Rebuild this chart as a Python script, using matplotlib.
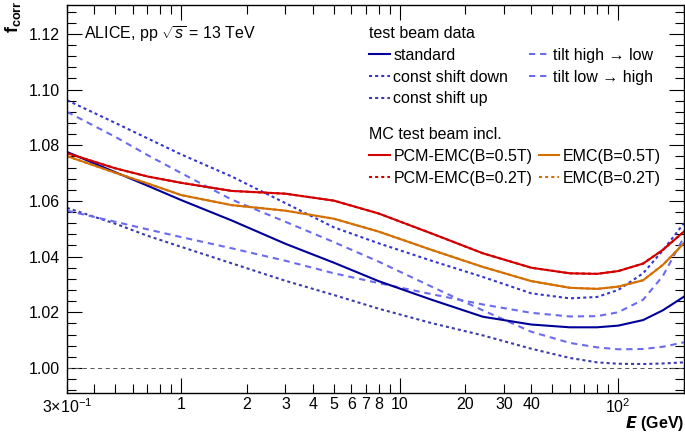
import numpy as np
import matplotlib.pyplot as plt
from matplotlib.ticker import FixedLocator, FuncFormatter, MultipleLocator, FormatStrFormatter

plt.rcParams['font.family'] = ['Liberation Sans', 'DejaVu Sans']
plt.rcParams['mathtext.fontset'] = 'custom'
plt.rcParams['mathtext.rm'] = 'Liberation Sans'
plt.rcParams['mathtext.it'] = 'Liberation Sans:italic'
plt.rcParams['mathtext.bf'] = 'Liberation Sans:bold'
plt.rcParams['lines.scale_dashes'] = False

# energy grid (GeV)
energy = [0.3, 0.5, 0.7, 1, 1.7, 3, 5, 8, 14, 24, 40, 60, 80, 100, 130, 160, 200]

# test beam data
standard = [1.0776, 1.0703, 1.0655, 1.0603, 1.0530, 1.0446, 1.0378, 1.0312, 1.0245,
            1.0184, 1.0156, 1.0146, 1.0146, 1.0152, 1.0172, 1.0207, 1.0256]
shift_down = [1.0962, 1.0880, 1.0825, 1.0767, 1.0688, 1.0592, 1.0505, 1.0448, 1.0385,
              1.0327, 1.0268, 1.0250, 1.0255, 1.0280, 1.0340, 1.0422, 1.0520]
shift_up = [1.0575, 1.0518, 1.0475, 1.0435, 1.0376, 1.0313, 1.0262, 1.0213, 1.0161,
            1.0117, 1.0069, 1.0036, 1.0020, 1.0015, 1.0014, 1.0016, 1.0020]
tilt_hl = [1.0920, 1.0830, 1.0765, 1.0700, 1.0605, 1.0525, 1.0452, 1.0382, 1.0292,
           1.0207, 1.0130, 1.0090, 1.0074, 1.0067, 1.0068, 1.0076, 1.0092]
tilt_lh = [1.0565, 1.0525, 1.0498, 1.0470, 1.0430, 1.0385, 1.0340, 1.0305, 1.0265,
           1.0228, 1.0198, 1.0185, 1.0186, 1.0200, 1.0245, 1.0330, 1.0470]

# MC test beam incl. (0.2T curves lie under the 0.5T ones)
pcm_emc = [1.0772, 1.0717, 1.0688, 1.0665, 1.0636, 1.0626, 1.0601, 1.0555, 1.0483,
           1.0412, 1.0360, 1.0340, 1.0338, 1.0348, 1.0375, 1.0424, 1.0490]
emc = [1.0761, 1.0701, 1.0663, 1.0621, 1.0585, 1.0565, 1.0536, 1.0490, 1.0424,
       1.0363, 1.0312, 1.0288, 1.0284, 1.0292, 1.0315, 1.0370, 1.0448]

short = (0, (2.2, 2.2))
long_ = (0, (4.5, 3.5))

fig = plt.figure(figsize=(6.85, 4.34), dpi=100)
ax = fig.add_axes([0.0978, 0.0945, 0.9007, 0.894])

ax.axhline(1.0, color='#555555', lw=0.7, ls=(0, (3, 2.5)))

lw = 1.5
ax.plot(energy, pcm_emc, color='#d40000', lw=lw, ls=short, label='PCM-EMC(B=0.2T)')
ax.plot(energy, emc, color='#d46f00', lw=lw, ls=short, label='EMC(B=0.2T)')
ax.plot(energy, shift_up, color='#3c3caa', lw=lw, ls=short, label='const shift up')
ax.plot(energy, tilt_hl, color='#6b6bef', lw=lw, ls=long_, label='tilt high → low')
ax.plot(energy, tilt_lh, color='#6b6bef', lw=lw, ls=long_, label='tilt low → high')
ax.plot(energy, shift_down, color='#3535d0', lw=lw, ls=short, label='const shift down')
ax.plot(energy, standard, color='#000099', lw=lw, label='standard')
ax.plot(energy, emc, color='#d46f00', lw=lw, label='EMC(B=0.5T)')
ax.plot(energy, pcm_emc, color='#d40000', lw=lw, label='PCM-EMC(B=0.5T)')

ax.set_xscale('log')
ax.set_xlim(0.3, 200)
ax.set_ylim(0.991, 1.1304)

ax.xaxis.set_major_locator(FixedLocator([1, 10, 100]))
ax.xaxis.set_major_formatter(FuncFormatter(lambda v, p: {1: '1', 10: '10', 100: r'$10^2$'}.get(round(v), '')))
minors = [0.3, 0.4, 0.5, 0.6, 0.7, 0.8, 0.9] + list(range(2, 10)) + list(range(20, 100, 10)) + [200]
ax.xaxis.set_minor_locator(FixedLocator(minors))
labelled = {0.3: r'$3{\times}10^{-1}$', 2: '2', 3: '3', 4: '4', 5: '5', 6: '6', 7: '7', 8: '8',
            20: '20', 30: '30', 40: '40'}
ax.xaxis.set_minor_formatter(FuncFormatter(lambda v, p: labelled.get(round(v, 1), '')))

ax.yaxis.set_major_locator(MultipleLocator(0.02))
ax.yaxis.set_minor_locator(MultipleLocator(0.004))
ax.yaxis.set_major_formatter(FormatStrFormatter('%.2f'))

ax.tick_params(which='both', direction='in', top=True, right=True, labelsize=11.5, pad=5, width=0.8)
ax.tick_params(which='major', length=11)
ax.tick_params(which='minor', length=6.5)
ax.tick_params(axis='x', which='both', pad=3)
for s in ax.spines.values():
    s.set_linewidth(1.0)

ax.text(0.027, 0.925, r'ALICE, pp $\sqrt{s}$ = 13 TeV', transform=ax.transAxes, fontsize=11.5, va='center')

fig.text(0.005, 0.998, r'$\mathbf{f}_{\mathbf{corr}}$', rotation=90, fontsize=13, ha='left', va='top')
fig.text(0.999, 0.003, r'$\boldsymbol{E}$ (GeV)', fontsize=11.5, ha='right', va='bottom', fontweight='bold')

h, l = ax.get_legend_handles_labels()
hd = dict(zip(l, h))
names1 = ['standard', 'const shift down', 'const shift up', 'tilt high → low', 'tilt low → high']
leg1 = ax.legend([hd[k] for k in names1], names1,
                 ncol=2, frameon=False, fontsize=11.5, title='test beam data', title_fontsize=11.5,
                 alignment='left', loc='upper left', bbox_to_anchor=(0.49, 0.945),
                 handlelength=1.3, handletextpad=0.2, labelspacing=0.42, columnspacing=1.3,
                 borderpad=0, borderaxespad=0)
ax.add_artist(leg1)
names2 = ['PCM-EMC(B=0.5T)', 'PCM-EMC(B=0.2T)', 'EMC(B=0.5T)', 'EMC(B=0.2T)']
ax.legend([hd[k] for k in names2], names2,
          ncol=2, frameon=False, fontsize=11.5, title='MC test beam incl.', title_fontsize=11.5,
          alignment='left', loc='upper left', bbox_to_anchor=(0.49, 0.685),
          handlelength=1.3, handletextpad=0.2, labelspacing=0.42, columnspacing=0.4,
          borderpad=0, borderaxespad=0)

fig.savefig('out.png', dpi=100)
